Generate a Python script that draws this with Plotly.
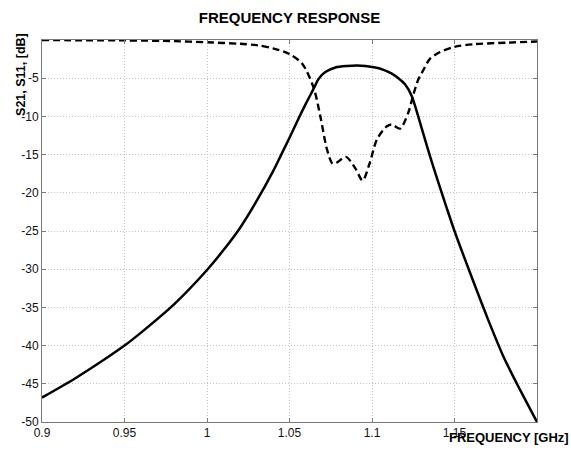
import plotly.graph_objects as go

# S21 (solid) frequency [GHz] and level [dB]
s21_freq = [0.900, 0.920, 0.940, 0.950, 0.960, 0.980, 1.000, 1.010, 1.020, 1.030,
            1.040, 1.045, 1.050, 1.055, 1.060, 1.0648, 1.0676, 1.0717, 1.0778, 1.085,
            1.091, 1.096, 1.102, 1.107, 1.112, 1.116, 1.120, 1.124, 1.128, 1.131,
            1.135, 1.140, 1.145, 1.150, 1.160, 1.170, 1.180, 1.190, 1.200]
s21_db = [-46.8, -44.3, -41.5, -40.0, -38.3, -34.6, -30.1, -27.5, -24.6, -21.1,
          -17.2, -15.0, -12.8, -10.5, -8.3, -6.3, -5.1, -4.2, -3.6, -3.4,
          -3.35, -3.4, -3.6, -3.9, -4.4, -5.0, -5.8, -7.3, -10.0, -12.2,
          -15.1, -18.5, -21.8, -25.0, -30.8, -36.4, -41.6, -45.9, -50.0]

# S11 (dashed) frequency [GHz] and level [dB]
s11_freq = [0.900, 0.950, 0.980, 1.000, 1.020, 1.031, 1.040, 1.0496, 1.0577, 1.0647,
            1.0687, 1.0727, 1.0762, 1.0790, 1.0842, 1.0899, 1.0943, 1.0985, 1.103, 1.109,
            1.112, 1.117, 1.122, 1.125, 1.128, 1.130, 1.135, 1.141, 1.150, 1.162,
            1.182, 1.200]
s11_db = [-0.02, -0.05, -0.15, -0.3, -0.5, -0.7, -1.1, -1.8, -3.1, -6.3,
          -10.0, -14.3, -16.2, -16.0, -15.3, -16.8, -18.4, -16.2, -13.0, -11.3,
          -11.05, -11.6, -9.5, -7.2, -5.2, -4.4, -2.5, -1.6, -0.9, -0.55,
          -0.35, -0.2]

x_ticks = [0.9, 0.95, 1.0, 1.05, 1.1, 1.15]
x_tick_labels = ["0.9", "0.95", "1", "1.05", "1.1", "1.15"]
y_ticks = [-5, -10, -15, -20, -25, -30, -35, -40, -45, -50]
y_tick_labels = ["-5", "-10", "-15", "-20", "-25", "-30", "-35", "-40", "-45", "-50"]

fig = go.Figure()
fig.add_trace(go.Scatter(x=s11_freq, y=s11_db, mode="lines",
                         line=dict(color="black", width=2.4, dash="7px,4px", shape="spline", smoothing=0.8),
                         showlegend=False))
fig.add_trace(go.Scatter(x=s21_freq, y=s21_db, mode="lines",
                         line=dict(color="black", width=2.5, shape="spline", smoothing=0.8),
                         showlegend=False))

axis_common = dict(showline=True, linecolor="#7a7a7a", linewidth=1, mirror="ticks",
                   ticks="inside", ticklen=4, tickcolor="#7a7a7a",
                   showgrid=True, gridcolor="#c4c4c4", griddash="1px,2px", gridwidth=1,
                   zeroline=False, tickfont=dict(family="Liberation Sans, Arial", size=12, color="#111"))

fig.update_xaxes(range=[0.9, 1.2], tickvals=x_ticks, ticktext=x_tick_labels, **axis_common)
fig.update_yaxes(range=[-50, 0], tickvals=y_ticks, ticktext=y_tick_labels, **axis_common)

fig.update_layout(
    width=571, height=452,
    margin=dict(l=42, r=34, t=40, b=24),
    paper_bgcolor="white", plot_bgcolor="white",
    title=dict(text="<b>FREQUENCY RESPONSE</b>", x=0.507, xanchor="center", y=0.96, yanchor="middle",
               font=dict(family="Liberation Sans, Arial", size=15, color="black")),
    annotations=[
        dict(text="<b>FREQUENCY [GHz]</b>", xref="paper", yref="paper", x=1.0 + 34/495, y=-16/388,
             xanchor="right", yanchor="middle", showarrow=False,
             font=dict(family="Liberation Sans, Arial", size=13, color="black")),
        dict(text="<b>S21, S11, [dB]</b>", xref="paper", yref="paper", x=-21/495, y=(428-75.5)/388,
             xanchor="center", yanchor="middle", textangle=-90, showarrow=False,
             font=dict(family="Liberation Sans, Arial", size=12.5, color="black")),
    ],
)

fig.write_html("out.html")
